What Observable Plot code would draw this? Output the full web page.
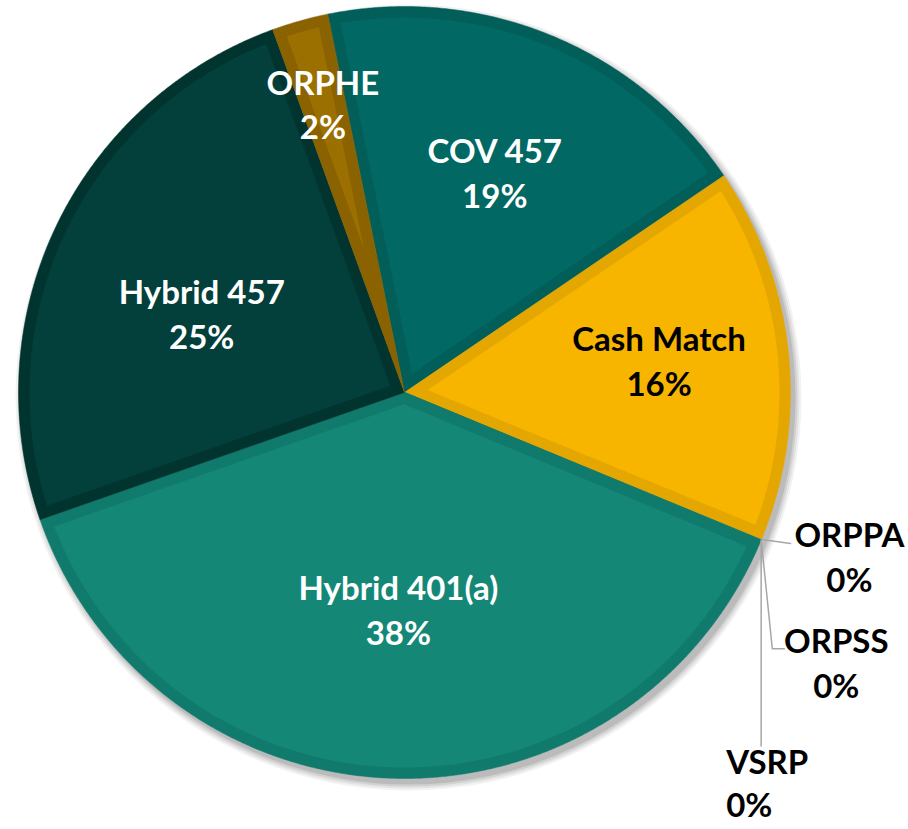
<!DOCTYPE html>
<html>
<head>
<meta charset="utf-8">
<script src="https://cdn.jsdelivr.net/npm/d3@7"></script>
<script src="https://cdn.jsdelivr.net/npm/@observablehq/plot@0.6"></script>
<style>
  html, body { margin: 0; padding: 0; background: #ffffff; }
  #chart svg { display: block; }
</style>
</head>
<body>
<div id="chart"></div>
<script>
// ---- data ----
const categories = ["COV 457", "Cash Match", "ORPPA", "ORPSS", "VSRP", "Hybrid 401(a)", "Hybrid 457", "ORPHE"];
const values     = [18.7, 15.7, 0.02, 0.01, 0.02, 38.4, 24.8, 2.35];

// ---- styles ----
const sliceColors = ["#016863", "#F7B500", "#F7B500", "#148777", "#148777", "#148777", "#033F3B", "#9C7000"];
const bevelColors = ["#015E59", "#E4A600", "#E4A600", "#107B6C", "#107B6C", "#107B6C", "#02342F", "#8A6200"];
const labelColors = ["#ffffff", "#000000", "#000000", "#000000", "#000000", "#ffffff", "#ffffff", "#ffffff"];

// ---- layout ----
const W = 908, H = 829;
const cx = 404, cy = 392, R = 386, bevel = 11;
const startDeg = -11.5;
// inside labels: radial fraction of R and angle tweak (deg); outside labels: offsets from the slice's rim point
const labelPlace = {
  "COV 457":       {r: 0.62, da: 0},
  "Cash Match":    {r: 0.665, da: -1.5},
  "Hybrid 401(a)": {r: 0.56, da: 0},
  "Hybrid 457":    {r: 0.565, da: -3.8},
  "ORPHE":         {r: 0.78, da: 0}
};
const outside = {
  "ORPPA": {dx: 88, dy: 16, anchor: "middle", lh: 1.36, leader: [[0, 0], [29, 4]]},
  "ORPSS": {dx: 75, dy: 121, anchor: "middle", lh: 1.36, leader: [[0, 1], [11, 109], [23, 109]]},
  "VSRP":  {dx: -35, dy: 242, anchor: "start", lh: 1.3, leader: [[0, 1], [0, 206]]}
};

const data = categories.map((c, i) => ({name: c, value: values[i], i}));
const total = d3.sum(values);
const rad = Math.PI / 180;
const arcs = d3.pie().sort(null).value(d => d.value)
  .startAngle(startDeg * rad).endAngle(startDeg * rad + 2 * Math.PI)(data);

const pt = (a, r) => [cx + r * Math.sin(a), cy - r * Math.cos(a)];

function wedgePoints(key, a0, a1, r, apexR, apexA) {
  const pts = [];
  const [ax, ay] = pt(apexA, apexR);
  pts.push({key, x: ax, y: ay});
  const n = Math.max(2, Math.ceil((a1 - a0) / 0.005));
  for (let k = 0; k <= n; k++) {
    const [x, y] = pt(a0 + (a1 - a0) * k / n, r);
    pts.push({key, x, y});
  }
  return pts;
}

const marks = [];

// soft drop shadow
for (const [grow, op] of [[7, 0.05], [5, 0.06], [3, 0.08], [1, 0.1]]) {
  marks.push(Plot.dot([{x: cx + 4, y: cy + 5}], {x: "x", y: "y", r: R + grow, fill: "#000", fillOpacity: op, stroke: "none"}));
}

// slices: outer (bevel colour) and inset (main colour)
for (const a of arcs) {
  const i = a.data.i;
  const span = a.endAngle - a.startAngle;
  if (span <= 0) continue;
  const mid = (a.startAngle + a.endAngle) / 2;
  marks.push(Plot.line(wedgePoints(a.data.name, a.startAngle, a.endAngle, R, 0, mid),
    {x: "x", y: "y", fill: bevelColors[i], stroke: bevelColors[i], strokeWidth: 0.5, curve: "linear-closed"}));
  const da = Math.asin(bevel / (R - bevel));
  if (span > 2 * da + 0.01) {
    const apexR = bevel / Math.sin(span / 2);
    marks.push(Plot.line(wedgePoints(a.data.name, a.startAngle + da, a.endAngle - da, R - bevel, apexR, mid),
      {x: "x", y: "y", fill: sliceColors[i], stroke: "none", curve: "linear-closed"}));
  }
}

// labels
const labels = [];
const leaders = [];
for (const a of arcs) {
  const name = a.data.name;
  const pct = Math.round(a.data.value / total * 100) + "%";
  const mid = (a.startAngle + a.endAngle) / 2;
  if (labelPlace[name]) {
    const p = labelPlace[name];
    const [x, y] = pt(mid + p.da * rad, p.r * R);
    labels.push({x, y, text: name + "\n" + pct, fill: labelColors[a.data.i], anchor: "middle", lh: 1.36});
  } else if (outside[name]) {
    const o = outside[name];
    const [ex, ey] = pt(mid, R);
    labels.push({x: ex + o.dx, y: ey + o.dy, text: name + "\n" + pct, fill: labelColors[a.data.i], anchor: o.anchor, lh: o.lh});
    o.leader.forEach(([lx, ly]) => leaders.push({key: name, x: ex + lx, y: ey + ly}));
  }
}

marks.push(Plot.line(leaders, {x: "x", y: "y", z: "key", stroke: "#A6A6A6", strokeWidth: 1.5}));

for (const lab of labels) {
  marks.push(Plot.text([lab], {
    x: "x", y: "y", text: "text", fill: "fill",
    textAnchor: lab.anchor, lineAnchor: "middle",
    fontFamily: "Lato", fontWeight: "bold", fontSize: 33, lineHeight: lab.lh
  }));
}

const chart = Plot.plot({
  width: W, height: H, margin: 0,
  x: {domain: [0, W], range: [0, W], axis: null},
  y: {domain: [0, H], range: [0, H], axis: null},
  color: {type: "identity"},
  style: {background: "#ffffff"},
  marks
});
document.getElementById("chart").appendChild(chart);
</script>
</body>
</html>
